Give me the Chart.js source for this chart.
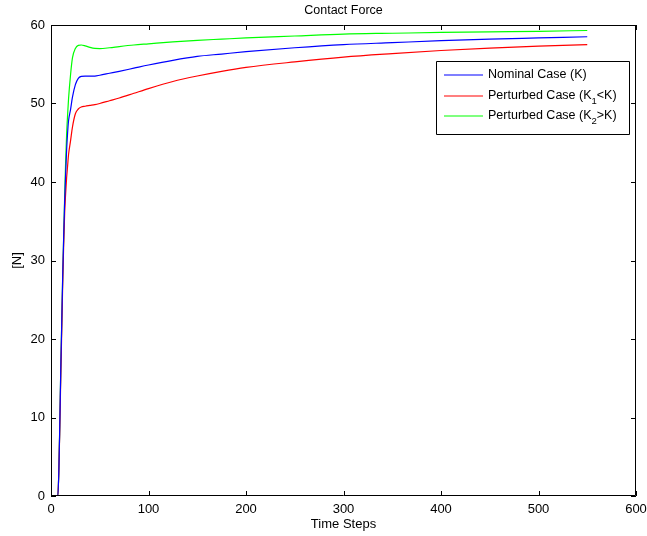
<!DOCTYPE html>
<html>
<head>
<meta charset="utf-8">
<script src="https://cdn.jsdelivr.net/npm/chart.js@4.4.0/dist/chart.umd.min.js"></script>
<style>
    html, body { margin: 0; padding: 0; background: #fff; }
    #wrap { width: 647px; height: 536px; }
</style>
</head>
<body>
<div id="wrap"><canvas id="chart_canvas" width="647" height="536"></canvas></div>
<script>
const timeSteps = [1, 7, 8, 9, 10, 11, 12, 13, 14, 15, 16, 17, 18, 20, 22, 25, 28, 31, 35, 40, 45, 50, 60, 70, 85, 100, 125, 150, 175, 200, 250, 300, 350, 400, 450, 500, 550];

const nominal = [0, 0, 3, 9, 16, 22, 28, 33, 37.5, 41, 44, 46.2, 47.8, 49.2, 50.8, 52.4, 53.2, 53.45, 53.5, 53.5, 53.5, 53.6, 53.85, 54.1, 54.5, 54.9, 55.5, 56.0, 56.3, 56.6, 57.1, 57.5, 57.75, 58.0, 58.2, 58.35, 58.5];
const perturbedLow = [0, 0, 3, 8.5, 15, 21, 27, 32, 36, 38.5, 40.5, 42, 43.5, 45.2, 47, 48.7, 49.3, 49.55, 49.65, 49.75, 49.85, 50.0, 50.35, 50.7, 51.3, 51.9, 52.8, 53.5, 54.1, 54.6, 55.3, 55.9, 56.35, 56.75, 57.05, 57.3, 57.5];
const perturbedHigh = [0, 0, 3, 9, 16, 22, 28, 33, 38, 42.5, 46, 48.5, 50.6, 53.6, 55.8, 57, 57.4, 57.45, 57.35, 57.15, 57.02, 57.0, 57.1, 57.25, 57.45, 57.6, 57.85, 58.05, 58.2, 58.35, 58.6, 58.85, 58.95, 59.05, 59.13, 59.2, 59.3];

const xTicks = [0, 100, 200, 300, 400, 500, 600];
const yTicks = [0, 10, 20, 30, 40, 50, 60];

// legend text, [main, subscript, rest]
const legendItems = [
    ['Nominal Case (K)', '', ''],
    ['Perturbed Case (K', '1', '<K)'],
    ['Perturbed Case (K', '2', '>K)']
];
const seriesColors = ['rgb(0, 0, 255)', 'rgb(255, 0, 0)', 'rgb(0, 255, 0)'];

const FONT = '"Liberation Sans", Arial, Helvetica, sans-serif';

function toPoints(arr) {
    return arr.map((v, i) => ({ x: timeSteps[i], y: v }));
}

// box, inward ticks, title and legend, like the matlab figure
const matlabFrame = {
    id: 'matlabFrame',
    afterDraw(chart) {
        const { ctx, chartArea: { left, right, top, bottom } } = chart;
        const xs = chart.scales.x;
        const ys = chart.scales.y;
        const tl = 5;

        ctx.save();
        ctx.strokeStyle = '#000';
        ctx.lineWidth = 1;
        ctx.beginPath();
        ctx.rect(left + 0.5, top + 0.5, right - left - 1, bottom - top - 1);
        ctx.stroke();

        ctx.beginPath();
        xTicks.forEach(v => {
            const px = Math.round(xs.getPixelForValue(v)) + 0.5;
            ctx.moveTo(px, bottom);
            ctx.lineTo(px, bottom - tl);
            ctx.moveTo(px, top);
            ctx.lineTo(px, top + tl);
        });
        yTicks.forEach(v => {
            const py = Math.round(ys.getPixelForValue(v)) + 0.5;
            ctx.moveTo(left, py);
            ctx.lineTo(left + tl, py);
            ctx.moveTo(right, py);
            ctx.lineTo(right - tl, py);
        });
        ctx.stroke();

        // title
        ctx.fillStyle = '#000';
        ctx.font = '12.5px ' + FONT;
        ctx.textAlign = 'center';
        ctx.textBaseline = 'middle';
        ctx.fillText('Contact Force', (left + right) / 2, 11);

        // legend
        const bx = 436, by = 61, bw = 193, bh = 73;
        ctx.fillStyle = '#fff';
        ctx.fillRect(bx, by, bw, bh);
        ctx.strokeStyle = '#000';
        ctx.beginPath();
        ctx.rect(bx + 0.5, by + 0.5, bw, bh);
        ctx.stroke();

        const rowsY = [75, 96, 116];
        ctx.textAlign = 'left';
        ctx.textBaseline = 'middle';
        legendItems.forEach((item, i) => {
            const y = rowsY[i];
            ctx.lineWidth = 1.2;
            ctx.strokeStyle = seriesColors[i];
            ctx.beginPath();
            ctx.moveTo(444, y);
            ctx.lineTo(483, y);
            ctx.stroke();

            ctx.fillStyle = '#000';
            ctx.font = '12.5px ' + FONT;
            let tx = 488;
            ctx.fillText(item[0], tx, y);
            tx += ctx.measureText(item[0]).width;
            if (item[1]) {
                ctx.font = '9.5px ' + FONT;
                ctx.fillText(item[1], tx, y + 5);
                tx += ctx.measureText(item[1]).width;
                ctx.font = '12.5px ' + FONT;
                ctx.fillText(item[2], tx, y);
            }
        });
        ctx.restore();
    }
};

const data = {
    datasets: [{
        label: 'Nominal Case (K)',
        data: toPoints(nominal),
        borderColor: seriesColors[0],
        borderWidth: 1.2,
        pointRadius: 0,
        fill: false,
        cubicInterpolationMode: 'monotone'
    }, {
        label: 'Perturbed Case (K1<K)',
        data: toPoints(perturbedLow),
        borderColor: seriesColors[1],
        borderWidth: 1.2,
        pointRadius: 0,
        fill: false,
        cubicInterpolationMode: 'monotone'
    }, {
        label: 'Perturbed Case (K2>K)',
        data: toPoints(perturbedHigh),
        borderColor: seriesColors[2],
        borderWidth: 1.2,
        pointRadius: 0,
        fill: false,
        cubicInterpolationMode: 'monotone'
    }]
};

const conf = {
    type: 'line',
    data: data,
    options: {
        responsive: false,
        animation: false,
        events: [],
        layout: {
            padding: { top: 25, right: 11, left: 0, bottom: 0 }
        },
        scales: {
            x: {
                type: 'linear',
                min: 0,
                max: 600,
                afterFit(scale) {
                    scale.height = 40;
                    scale.paddingLeft = 0;
                    scale.paddingRight = 0;
                },
                afterBuildTicks(scale) { scale.ticks = xTicks.map(v => ({ value: v })); },
                grid: { display: false, drawTicks: false },
                border: { display: false },
                ticks: {
                    color: '#000',
                    padding: 6,
                    maxRotation: 0,
                    font: { family: FONT, size: 13 }
                },
                title: {
                    display: true,
                    text: 'Time Steps',
                    color: '#000',
                    padding: { top: 0, bottom: 4 },
                    font: { family: FONT, size: 13 }
                }
            },
            y: {
                type: 'linear',
                min: 0,
                max: 60,
                afterFit(scale) {
                    scale.width = 51;
                    scale.paddingTop = 0;
                    scale.paddingBottom = 0;
                },
                afterBuildTicks(scale) { scale.ticks = yTicks.map(v => ({ value: v })); },
                grid: { display: false, drawTicks: false },
                border: { display: false },
                ticks: {
                    color: '#000',
                    padding: 6,
                    font: { family: FONT, size: 13 }
                },
                title: {
                    display: true,
                    text: '[N]',
                    color: '#000',
                    padding: { top: 10, bottom: 0 },
                    font: { family: FONT, size: 13 }
                }
            }
        },
        plugins: {
            legend: { display: false },
            title: { display: false },
            tooltip: { enabled: false }
        }
    },
    plugins: [matlabFrame]
};

const myChart = new Chart(document.getElementById('chart_canvas'), conf);
</script>
</body>
</html>
